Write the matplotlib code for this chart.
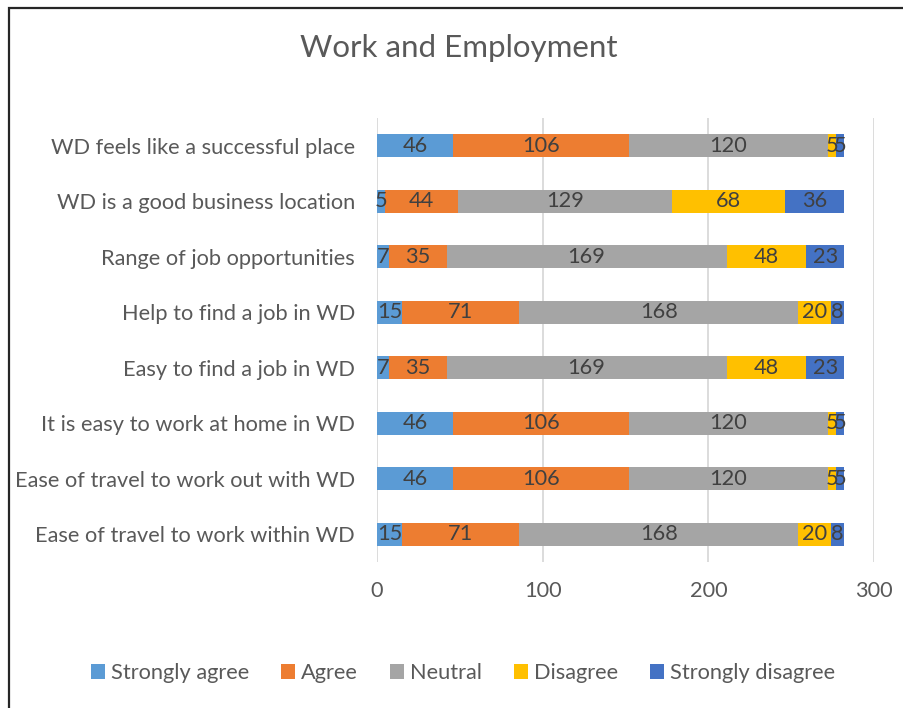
import numpy as np
import matplotlib
matplotlib.use("Agg")
import matplotlib.pyplot as plt
from matplotlib import patches

plt.rcParams['font.family'] = ['Lato', 'DejaVu Sans']

categories = ["Ease of travel to work within WD",
              "Ease of travel to work out with WD",
              "It is easy to work at home in WD",
              "Easy to find a job in WD",
              "Help to find a job in WD",
              "Range of job opportunities",
              "WD is a good business location",
              "WD feels like a successful place"]
series = ["Strongly agree", "Agree", "Neutral", "Disagree", "Strongly disagree"]
strongly_agree = [15, 46, 46, 7, 15, 7, 5, 46]
agree = [71, 106, 106, 35, 71, 35, 44, 106]
neutral = [168, 120, 120, 169, 168, 169, 129, 120]
disagree = [20, 5, 5, 48, 20, 48, 68, 5]
strongly_disagree = [8, 5, 5, 23, 8, 23, 36, 5]
colors = ['#5B9BD5', '#ED7D31', '#A5A5A5', '#FFC000', '#4472C4']
xticks = [0, 100, 200, 300]

txt = '#595959'
fs = 15.7
fig = plt.figure(figsize=(9.04, 7.08), dpi=100)
ax = fig.add_axes([377/904, 1-562/708, 497/904, 444/708])

y = np.arange(len(categories))
left = np.zeros(len(categories))
for name, vals, c in zip(series, [strongly_agree, agree, neutral, disagree, strongly_disagree], colors):
    vals = np.array(vals, dtype=float)
    bars = ax.barh(y, vals, left=left, height=0.41, color=c, label=name, zorder=3)
    ax.bar_label(bars, labels=[str(int(v)) for v in vals], label_type='center',
                 color='#404040', fontsize=fs, zorder=4)
    left += vals

ax.set_xlim(0, 300)
ax.set_ylim(-0.5, len(categories) - 0.5)
ax.set_xticks(xticks)
ax.set_yticks(y)
ax.set_yticklabels(categories)
ax.tick_params(axis='both', length=0, labelsize=fs, labelcolor=txt)
ax.tick_params(axis='y', pad=16)
ax.tick_params(axis='x', pad=14)
ax.grid(axis='x', color='#D9D9D9', lw=1.3, zorder=0)
for s in ax.spines.values():
    s.set_visible(False)

fig.text(459/904, 1-48/708, "Work and Employment", ha='center', va='center',
         fontsize=22.5, color=txt)

fig.legend(loc='center', bbox_to_anchor=(463/904, 1-673/708), ncol=5, frameon=False,
           fontsize=fs, handlelength=0.65, handleheight=0.65, handletextpad=0.28,
           columnspacing=1.45, labelcolor=txt)

# chart border (cropped at right and bottom)
fig.patches.append(patches.Rectangle((9/904, -0.05), 1.2, 1.05 - 8/708,
                                     transform=fig.transFigure, fill=False,
                                     edgecolor='#262626', lw=1.6))

fig.savefig('out.png', dpi=100)
